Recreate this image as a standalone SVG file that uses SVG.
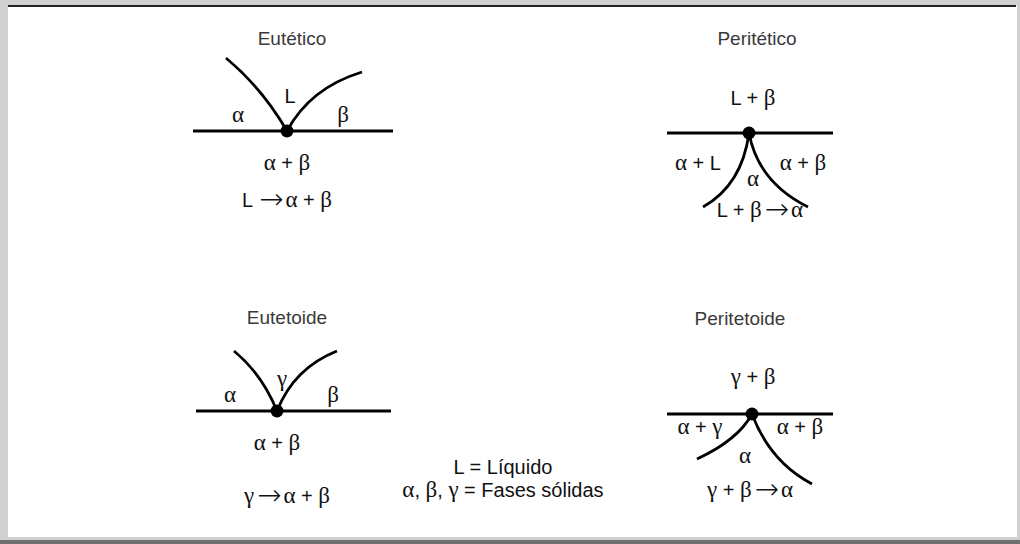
<svg xmlns="http://www.w3.org/2000/svg" width="1020" height="544" viewBox="0 0 1020 544">
<style>
.t{font-family:"Liberation Sans",Arial,sans-serif;font-size:19px;fill:#3a3a3a;text-anchor:middle}
.l{font-family:"Liberation Sans",Arial,sans-serif;font-size:20px;fill:#111;text-anchor:middle}
.g{font-family:"Liberation Serif","Times New Roman",serif;font-size:23px}
.a{font-family:"DejaVu Sans",sans-serif;font-size:29px;font-weight:200}
.ln{stroke:#000;stroke-width:2.8;fill:none}
</style>
<defs>
<circle id="dot" r="6.5" fill="#000"/>
</defs>
<rect x="0" y="0" width="1020" height="544" fill="#d0d0d0"/>
<rect x="8" y="5" width="1009" height="532" fill="#fff"/>
<rect x="8" y="5" width="1008" height="2" fill="#222"/>
<rect x="0" y="540" width="1020" height="4" fill="#6e6e6e"/>

<g id="eutetico">
<text class="t" x="292" y="45">Eutético</text>
<text class="l" x="290" y="103">L</text>
<text class="l" x="238" y="122"><tspan class="g">α</tspan></text>
<text class="l" x="343" y="122"><tspan class="g">β</tspan></text>
<text class="l" x="287" y="170"><tspan class="g">α</tspan> + <tspan class="g">β</tspan></text>
<text class="l" x="287" y="207">L<tspan class="a" dx="6" dy="2">→</tspan><tspan class="g" dx="2" dy="-2">α</tspan> + <tspan class="g">β</tspan></text>
</g>

<g id="peritetico">
<text class="t" x="757" y="45">Peritético</text>
<text class="l" x="753" y="105">L + <tspan class="g">β</tspan></text>
<text class="l" x="698" y="170"><tspan class="g">α</tspan> + L</text>
<text class="l" x="803" y="170"><tspan class="g">α</tspan> + <tspan class="g">β</tspan></text>
<text class="l" x="753" y="186"><tspan class="g">α</tspan></text>
<text class="l" x="760" y="217">L + <tspan class="g">β</tspan><tspan class="a" dx="3" dy="2">→</tspan><tspan class="g" dx="2" dy="-2">α</tspan></text>
</g>

<g id="eutetoide">
<text class="t" x="287" y="324">Eutetoide</text>
<text class="l" x="282" y="386"><tspan class="g">γ</tspan></text>
<text class="l" x="230" y="402"><tspan class="g">α</tspan></text>
<text class="l" x="333" y="402"><tspan class="g">β</tspan></text>
<text class="l" x="277" y="450"><tspan class="g">α</tspan> + <tspan class="g">β</tspan></text>
<text class="l" x="287" y="503"><tspan class="g">γ</tspan><tspan class="a" dx="3" dy="2">→</tspan><tspan class="g" dx="2" dy="-2">α</tspan> + <tspan class="g">β</tspan></text>
</g>

<g id="peritetoide">
<text class="t" x="740" y="325">Peritetoide</text>
<text class="l" x="753" y="384"><tspan class="g">γ</tspan> + <tspan class="g">β</tspan></text>
<text class="l" x="700" y="434"><tspan class="g">α</tspan> + <tspan class="g">γ</tspan></text>
<text class="l" x="800" y="434"><tspan class="g">α</tspan> + <tspan class="g">β</tspan></text>
<text class="l" x="745" y="463"><tspan class="g">α</tspan></text>
<text class="l" x="750" y="497"><tspan class="g">γ</tspan> + <tspan class="g">β</tspan><tspan class="a" dx="3" dy="2">→</tspan><tspan class="g" dx="2" dy="-2">α</tspan></text>
</g>

<g id="legend">
<text class="l" x="503" y="474">L = Líquido</text>
<text class="l" x="503" y="497"><tspan class="g">α</tspan>, <tspan class="g">β</tspan>, <tspan class="g">γ</tspan> = Fases sólidas</text>
</g>

<g id="connectors">
<line class="ln" x1="193" y1="131" x2="393" y2="131"/>
<path class="ln" d="M226,58 Q262,88 287,131"/>
<path class="ln" d="M287,131 Q310,88 362,72"/>
<use href="#dot" x="287" y="131"/>

<line class="ln" x1="667" y1="133" x2="833" y2="133"/>
<path class="ln" d="M749,133 Q742,185 703,207"/>
<path class="ln" d="M749,133 Q758,182 808,207"/>
<use href="#dot" x="749" y="133"/>

<line class="ln" x1="196" y1="411" x2="391" y2="411"/>
<path class="ln" d="M234,351 Q262,374 277,411"/>
<path class="ln" d="M277,411 Q294,368 337,351"/>
<use href="#dot" x="277" y="411"/>

<line class="ln" x1="667" y1="414" x2="833" y2="414"/>
<path class="ln" d="M752,414 Q738,440 697,459"/>
<path class="ln" d="M752,414 Q770,462 812,484"/>
<use href="#dot" x="752" y="414"/>
</g>
</svg>
